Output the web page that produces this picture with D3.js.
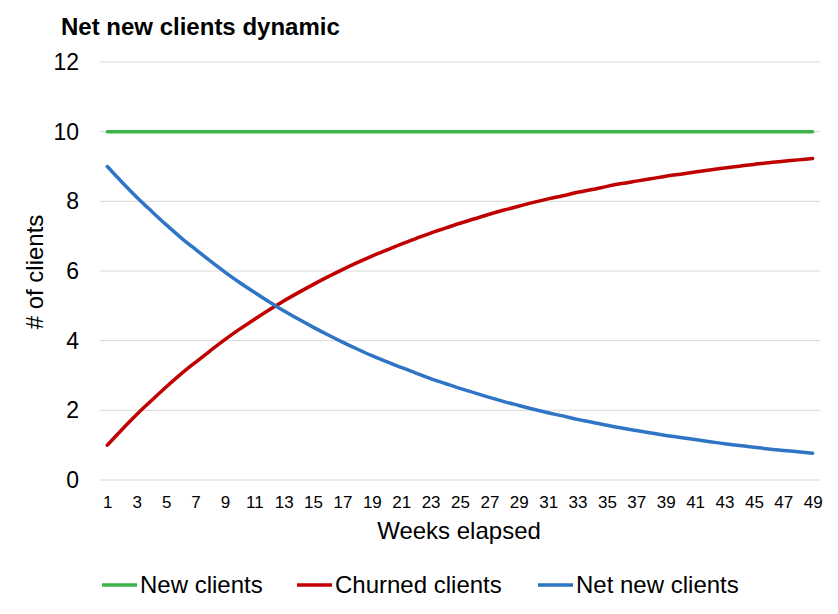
<!DOCTYPE html>
<html><head><meta charset="utf-8">
<script src="https://cdn.jsdelivr.net/npm/d3@7"></script>
<style>body{margin:0;background:#fff;} text{font-family:"Liberation Sans",Arial,sans-serif;fill:#000;}</style>
</head><body><svg id="c" width="838" height="614"></svg>
<script>
const weeks = d3.range(1, 50);
const newClients = [10,10,10,10,10,10,10,10,10,10,10,10,10,10,10,10,10,10,10,10,10,10,10,10,10,10,10,10,10,10,10,10,10,10,10,10,10,10,10,10,10,10,10,10,10,10,10,10,10];
const churnedClients = [1.00,1.45,1.88,2.28,2.67,3.04,3.38,3.71,4.03,4.33,4.61,4.88,5.14,5.38,5.61,5.83,6.04,6.24,6.43,6.60,6.77,6.93,7.09,7.23,7.37,7.50,7.63,7.75,7.86,7.97,8.07,8.16,8.26,8.34,8.43,8.51,8.58,8.65,8.72,8.78,8.84,8.90,8.96,9.01,9.06,9.11,9.15,9.19,9.23];
const netNewClients = [9.00,8.55,8.12,7.72,7.33,6.96,6.62,6.29,5.97,5.67,5.39,5.12,4.86,4.62,4.39,4.17,3.96,3.76,3.57,3.40,3.23,3.07,2.91,2.77,2.63,2.50,2.37,2.25,2.14,2.03,1.93,1.84,1.74,1.66,1.57,1.49,1.42,1.35,1.28,1.22,1.16,1.10,1.04,0.99,0.94,0.89,0.85,0.81,0.77];
const yTicks = [0,2,4,6,8,10,12];
const xTickLabels = weeks.filter(w => w % 2 === 1);
const seriesNames = ["New clients","Churned clients","Net new clients"];
const seriesColors = ["#3cb44b","#c00000","#2e75c6"];
const seriesData = [newClients, churnedClients, netNewClients];

const svg = d3.select("#c");
const L = 100, R = 820, T = 62, B = 480;
const x = d3.scalePoint().domain(weeks).range([L, R]).padding(0.5);
const y = d3.scaleLinear().domain([0, 12]).range([B, T]);

// gridlines
svg.append("g").selectAll("line").data(yTicks).join("line")
  .attr("x1", L).attr("x2", R).attr("y1", d => y(d)).attr("y2", d => y(d))
  .attr("stroke", "#d9d9d9").attr("stroke-width", 1);

// y axis labels
const yAx = svg.append("g").attr("transform", `translate(${L},0)`)
  .call(d3.axisLeft(y).tickValues(yTicks).tickSize(0).tickPadding(21));
yAx.select(".domain").remove();
yAx.selectAll("text").style("font-size", "23px").attr("font-family", null);

// x axis labels
const xAx = svg.append("g").attr("transform", `translate(0,${B})`)
  .call(d3.axisBottom(x).tickValues(xTickLabels).tickSize(0).tickPadding(16));
xAx.select(".domain").remove();
xAx.selectAll("text").style("font-size", "17px").attr("font-family", null);

// lines
const line = d3.line().x((d, i) => x(weeks[i])).y(d => y(d)).curve(d3.curveMonotoneX);
seriesData.forEach((s, k) => {
  svg.append("path").datum(s).attr("d", line).attr("fill", "none")
    .attr("stroke", seriesColors[k]).attr("stroke-width", 3.5).attr("stroke-linecap", "round");
});

// title
svg.append("text").attr("x", 61).attr("y", 35).text("Net new clients dynamic")
  .style("font-size", "24px").style("font-weight", "bold");

// axis titles
svg.append("text").attr("x", 459).attr("y", 539).attr("text-anchor", "middle")
  .text("Weeks elapsed").style("font-size", "24px");
svg.append("text").attr("transform", "translate(43,272) rotate(-90)").attr("text-anchor", "middle")
  .text("# of clients").style("font-size", "24px");

// legend
const legX = [102, 297, 538];
seriesNames.forEach((n, k) => {
  svg.append("line").attr("x1", legX[k]).attr("x2", legX[k] + 35).attr("y1", 585).attr("y2", 585)
    .attr("stroke", seriesColors[k]).attr("stroke-width", 3.5);
  svg.append("text").attr("x", legX[k] + 38).attr("y", 593).text(n).style("font-size", "24px");
});
</script></body></html>
